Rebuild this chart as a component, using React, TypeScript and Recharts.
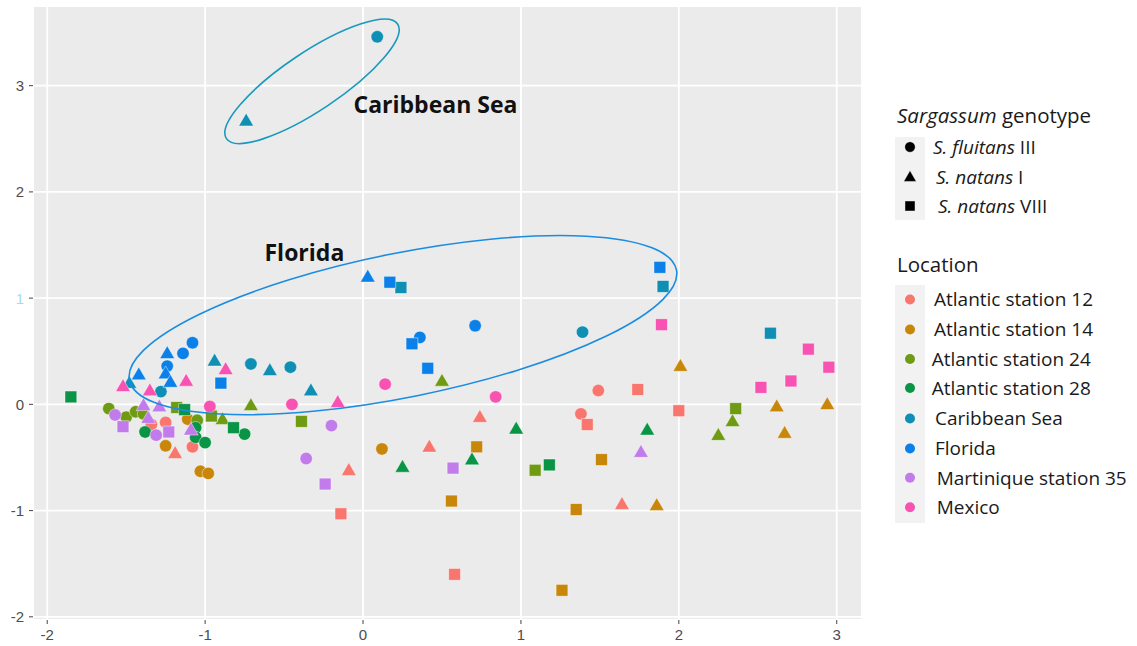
import React from 'react';
import {
  ScatterChart,
  Scatter,
  XAxis,
  YAxis,
  CartesianGrid,
  ReferenceDot,
} from 'recharts';

// g: F = S. fluitans III (circle), I = S. natans I (triangle), V = S. natans VIII (square)
type Pt = { x: number; y: number; g: 'F' | 'I' | 'V' };

const atlantic12: Pt[] = [
  { x: -1.34, y: -0.19, g: 'F' }, { x: -1.25, y: -0.17, g: 'F' }, { x: -1.08, y: -0.40, g: 'F' },
  { x: 1.38, y: -0.09, g: 'F' }, { x: 1.49, y: 0.13, g: 'F' },
  { x: -1.19, y: -0.46, g: 'I' }, { x: -0.09, y: -0.62, g: 'I' }, { x: 0.42, y: -0.40, g: 'I' },
  { x: 0.74, y: -0.12, g: 'I' }, { x: 1.64, y: -0.94, g: 'I' },
  { x: -0.14, y: -1.03, g: 'V' }, { x: 0.58, y: -1.60, g: 'V' }, { x: 1.42, y: -0.19, g: 'V' },
  { x: 1.74, y: 0.14, g: 'V' }, { x: 2.0, y: -0.06, g: 'V' },
];

const atlantic14: Pt[] = [
  { x: -1.25, y: -0.39, g: 'F' }, { x: -1.11, y: -0.14, g: 'F' }, { x: -1.03, y: -0.63, g: 'F' },
  { x: -0.98, y: -0.65, g: 'F' }, { x: 0.12, y: -0.42, g: 'F' },
  { x: 2.01, y: 0.36, g: 'I' }, { x: 1.86, y: -0.95, g: 'I' }, { x: 2.62, y: -0.02, g: 'I' },
  { x: 2.94, y: 0.0, g: 'I' }, { x: 2.67, y: -0.27, g: 'I' },
  { x: 0.72, y: -0.40, g: 'V' }, { x: 0.56, y: -0.91, g: 'V' }, { x: 1.35, y: -0.99, g: 'V' },
  { x: 1.26, y: -1.75, g: 'V' }, { x: 1.51, y: -0.52, g: 'V' },
];

const atlantic24: Pt[] = [
  { x: -1.61, y: -0.04, g: 'F' }, { x: -1.50, y: -0.12, g: 'F' }, { x: -1.44, y: -0.07, g: 'F' },
  { x: -1.39, y: -0.09, g: 'F' }, { x: -1.05, y: -0.15, g: 'F' },
  { x: -0.89, y: -0.14, g: 'I' }, { x: -0.71, y: -0.01, g: 'I' }, { x: 0.50, y: 0.22, g: 'I' },
  { x: 2.25, y: -0.29, g: 'I' }, { x: 2.34, y: -0.16, g: 'I' },
  { x: -1.18, y: -0.03, g: 'V' }, { x: -0.96, y: -0.11, g: 'V' }, { x: -0.39, y: -0.16, g: 'V' },
  { x: 1.09, y: -0.62, g: 'V' }, { x: 2.36, y: -0.04, g: 'V' },
];

const atlantic28: Pt[] = [
  { x: -1.38, y: -0.26, g: 'F' }, { x: -1.06, y: -0.22, g: 'F' }, { x: -1.06, y: -0.31, g: 'F' },
  { x: -1.0, y: -0.36, g: 'F' }, { x: -0.75, y: -0.28, g: 'F' },
  { x: 0.25, y: -0.59, g: 'I' }, { x: 0.69, y: -0.52, g: 'I' }, { x: 0.97, y: -0.23, g: 'I' },
  { x: 1.80, y: -0.24, g: 'I' },
  { x: -1.85, y: 0.07, g: 'V' }, { x: -1.13, y: -0.05, g: 'V' }, { x: -0.82, y: -0.22, g: 'V' },
  { x: 1.18, y: -0.57, g: 'V' },
];

const caribbean: Pt[] = [
  { x: 0.09, y: 3.46, g: 'F' }, { x: -1.28, y: 0.12, g: 'F' }, { x: -0.71, y: 0.38, g: 'F' },
  { x: -0.46, y: 0.35, g: 'F' }, { x: 1.39, y: 0.68, g: 'F' },
  { x: -0.74, y: 2.67, g: 'I' }, { x: -1.48, y: 0.20, g: 'I' }, { x: -0.94, y: 0.41, g: 'I' },
  { x: -0.59, y: 0.32, g: 'I' }, { x: -0.33, y: 0.13, g: 'I' },
  { x: 0.24, y: 1.10, g: 'V' }, { x: 1.90, y: 1.11, g: 'V' }, { x: 2.58, y: 0.67, g: 'V' },
];

const florida: Pt[] = [
  { x: -1.08, y: 0.58, g: 'F' }, { x: -1.14, y: 0.48, g: 'F' }, { x: -1.24, y: 0.36, g: 'F' },
  { x: 0.36, y: 0.63, g: 'F' }, { x: 0.71, y: 0.74, g: 'F' },
  { x: -1.24, y: 0.48, g: 'I' }, { x: -1.42, y: 0.28, g: 'I' }, { x: -1.25, y: 0.29, g: 'I' },
  { x: -1.22, y: 0.21, g: 'I' }, { x: 0.03, y: 1.20, g: 'I' },
  { x: -0.90, y: 0.20, g: 'V' }, { x: 0.17, y: 1.15, g: 'V' }, { x: 0.31, y: 0.57, g: 'V' },
  { x: 0.41, y: 0.34, g: 'V' }, { x: 1.88, y: 1.29, g: 'V' },
];

const martinique: Pt[] = [
  { x: -1.57, y: -0.10, g: 'F' }, { x: -1.31, y: -0.29, g: 'F' }, { x: -0.20, y: -0.20, g: 'F' },
  { x: -0.36, y: -0.51, g: 'F' },
  { x: -1.39, y: -0.01, g: 'I' }, { x: -1.29, y: -0.02, g: 'I' }, { x: -1.36, y: -0.13, g: 'I' },
  { x: -1.09, y: -0.24, g: 'I' }, { x: 1.76, y: -0.45, g: 'I' },
  { x: -1.52, y: -0.21, g: 'V' }, { x: -1.23, y: -0.26, g: 'V' }, { x: -0.24, y: -0.75, g: 'V' },
  { x: 0.57, y: -0.60, g: 'V' },
];

const mexico: Pt[] = [
  { x: -0.97, y: -0.02, g: 'F' }, { x: -0.45, y: 0.0, g: 'F' }, { x: 0.14, y: 0.19, g: 'F' },
  { x: 0.84, y: 0.07, g: 'F' },
  { x: -1.52, y: 0.17, g: 'I' }, { x: -1.35, y: 0.13, g: 'I' }, { x: -1.12, y: 0.22, g: 'I' },
  { x: -0.87, y: 0.33, g: 'I' }, { x: -0.16, y: 0.02, g: 'I' },
  { x: 1.89, y: 0.75, g: 'V' }, { x: 2.52, y: 0.16, g: 'V' }, { x: 2.71, y: 0.22, g: 'V' },
  { x: 2.82, y: 0.52, g: 'V' }, { x: 2.95, y: 0.35, g: 'V' },
];

const locations = [
  { name: 'Atlantic station 12', color: '#F8766D', data: atlantic12 },
  { name: 'Atlantic station 14', color: '#C8870B', data: atlantic14 },
  { name: 'Atlantic station 24', color: '#6E9B12', data: atlantic24 },
  { name: 'Atlantic station 28', color: '#0A9445', data: atlantic28 },
  { name: 'Caribbean Sea', color: '#0E8FB3', data: caribbean },
  { name: 'Florida', color: '#0B80E8', data: florida },
  { name: 'Martinique station 35', color: '#C17BEB', data: martinique },
  { name: 'Mexico', color: '#F852B2', data: mexico },
];

const genotypeKeys: { g: Pt['g']; species: string; clade: string }[] = [
  { g: 'F', species: 'S. fluitans', clade: ' III' },
  { g: 'I', species: 'S. natans', clade: ' I' },
  { g: 'V', species: 'S. natans', clade: ' VIII' },
];

const majorTicks = [-2, -1, 0, 1, 2, 3];
const minorXTicks = [-1.5, -0.5, 0.5, 1.5, 2.5];
const minorYTicks = [-1.5, -0.5, 0.5, 1.5, 2.5, 3.5];
const xDomain = [-2.09, 3.16];
const yDomain = [-2.03, 3.75];

// group outlines: centre in data units
const caribbeanRing = { x: -0.323, y: 3.041 };
const floridaRing = { x: 0.253, y: 0.746 };
const caribbeanTag = { x: -0.06, y: 2.74, text: 'Caribbean Sea' };
const floridaTag = { x: -0.624, y: 1.348, text: 'Florida' };

function markerShape(g: Pt['g'], cx: number, cy: number, fill: string, scale = 1) {
  const common = { fill, stroke: '#ffffff', strokeOpacity: 0.55, strokeWidth: 0.8 };
  if (g === 'F') return <circle cx={cx} cy={cy} r={6.2 * scale} {...common} />;
  if (g === 'I') {
    const h = 7.6 * scale;
    const w = 7.4 * scale;
    const b = 5.2 * scale;
    return <polygon points={`${cx},${cy - h} ${cx - w},${cy + b} ${cx + w},${cy + b}`} {...common} />;
  }
  const s = 5.9 * scale;
  return <rect x={cx - s} y={cy - s} width={s * 2} height={s * 2} {...common} />;
}

const XTick = ({ x, y, payload }: any) => (
  <text x={x} y={y} dy="0.71em" textAnchor="middle" fill="#4D4D4D"
    fontFamily="Liberation Sans, Arial, sans-serif" fontSize={15}>
    {payload.value}
  </text>
);

const YTick = ({ x, y, payload }: any) => (
  <text x={x} y={y} dy="0.36em" textAnchor="end"
    fill={payload.value === 1 ? '#A9D8F2' : '#4D4D4D'}
    fontFamily="Liberation Sans, Arial, sans-serif" fontSize={15}>
    {payload.value}
  </text>
);

const locationRows = [299.5, 329.5, 359, 388, 418.5, 448.5, 477.7, 507.3];
const locationLabelX = [934, 934, 931.7, 931.7, 935, 935, 936.7, 936.7];
const genotypeRows = [147, 177, 206];
const genotypeLabelX = [933, 936, 938];

function Legend() {
  const font = 'Open Sans, sans-serif';
  return (
    <svg width={1137} height={646} style={{ position: 'absolute', left: 0, top: 0, pointerEvents: 'none' }}>
      <text x={897} y={123.3} fontFamily={font} fontSize={20.5} fill="#1A1A1A">
        <tspan fontStyle="italic">Sargassum</tspan> genotype
      </text>
      <rect x={895} y={137} width={30} height={83} fill="#F2F2F2" />
      {genotypeKeys.map((k, i) => (
        <g key={k.g + i}>
          {markerShape(k.g, 910, genotypeRows[i], '#000000', 0.85)}
          <text x={genotypeLabelX[i]} y={genotypeRows[i] + 6.8} fontFamily={font} fontSize={19} fill="#1A1A1A">
            <tspan fontStyle="italic">{k.species}</tspan>{k.clade}
          </text>
        </g>
      ))}
      <text x={897} y={271.7} fontFamily={font} fontSize={20.5} fill="#1A1A1A">Location</text>
      <rect x={895} y={285} width={30} height={238} fill="#F2F2F2" />
      {locations.map((l, i) => (
        <g key={l.name}>
          <circle cx={910} cy={locationRows[i]} r={5} fill={l.color} />
          <text x={locationLabelX[i]} y={locationRows[i] + 6.8} fontFamily={font} fontSize={19} fill="#1A1A1A">
            {l.name}
          </text>
        </g>
      ))}
    </svg>
  );
}

export default function App() {
  return (
    <div style={{ position: 'absolute', left: 0, top: 0, width: 1137, height: 646, background: '#ffffff' }}>
      <ScatterChart width={1137} height={646} margin={{ top: 6, right: 275, bottom: 0, left: 0 }}>
        <XAxis xAxisId="minor" type="number" dataKey="x" domain={xDomain} ticks={minorXTicks} hide />
        <YAxis yAxisId="minor" type="number" dataKey="y" domain={yDomain} ticks={minorYTicks} hide />
        <CartesianGrid xAxisId="minor" yAxisId="minor" fill="#EBEBEB" stroke="#ffffff" strokeWidth={0.9} />
        <CartesianGrid stroke="#ffffff" strokeWidth={1.8} />
        <XAxis
          type="number"
          dataKey="x"
          domain={xDomain}
          ticks={majorTicks}
          height={26}
          axisLine={false}
          tickSize={4}
          tickMargin={5}
          tickLine={{ stroke: '#444444' }}
          tick={<XTick />}
          allowDataOverflow
        />
        <YAxis
          type="number"
          dataKey="y"
          domain={yDomain}
          ticks={majorTicks}
          width={33}
          axisLine={false}
          tickSize={4}
          tickMargin={5}
          tickLine={{ stroke: '#444444' }}
          tick={<YTick />}
          allowDataOverflow
        />
        {locations.map((l) => (
          <Scatter
            key={l.name}
            name={l.name}
            data={l.data}
            fill={l.color}
            isAnimationActive={false}
            shape={(p: any) => markerShape(p.payload.g, p.cx, p.cy, l.color)}
          />
        ))}
        <ReferenceDot
          x={caribbeanRing.x}
          y={caribbeanRing.y}
          shape={(p: any) => (
            <ellipse cx={p.cx} cy={p.cy} rx={103} ry={29} transform={`rotate(-33.8 ${p.cx} ${p.cy})`}
              fill="none" stroke="#1899BE" strokeWidth={1.6} />
          )}
        />
        <ReferenceDot
          x={floridaRing.x}
          y={floridaRing.y}
          shape={(p: any) => (
            <ellipse cx={p.cx} cy={p.cy} rx={279} ry={72} transform={`rotate(-11.4 ${p.cx} ${p.cy})`}
              fill="none" stroke="#1A8CE2" strokeWidth={1.6} />
          )}
        />
        {[caribbeanTag, floridaTag].map((t) => (
          <ReferenceDot
            key={t.text}
            x={t.x}
            y={t.y}
            shape={(p: any) => (
              <text x={p.cx} y={p.cy} fontFamily="Open Sans, sans-serif" fontWeight={700}
                fontSize={23} fill="#111111">
                {t.text}
              </text>
            )}
          />
        ))}
      </ScatterChart>
      <Legend />
    </div>
  );
}
